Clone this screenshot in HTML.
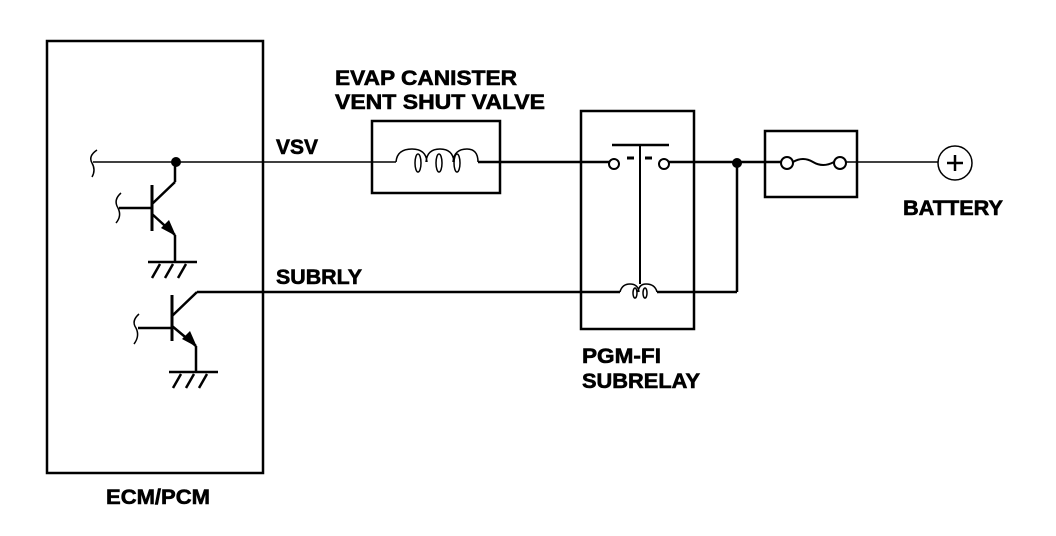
<!DOCTYPE html>
<html><head><style>
html,body{margin:0;padding:0;background:#fff;}
svg{display:block}
text{font-family:"Liberation Sans",Arial,sans-serif;font-weight:bold;font-size:21px;fill:#000;stroke:#000;stroke-width:0.6}
</style></head><body>
<svg width="1056" height="536" viewBox="0 0 1056 536" xmlns="http://www.w3.org/2000/svg">
<g fill="none" stroke="#000" stroke-width="2.5">
<rect x="47" y="41" width="216" height="432"/>
<line x1="93" y1="162" x2="396" y2="162" stroke-width="1.5"/>
<path d="M97 150 Q88 156 92 163 Q96 170 92 177" stroke-width="1.5"/>
<!-- transistor 1 -->
<line x1="175" y1="162" x2="175" y2="182"/>
<line x1="175" y1="182" x2="152" y2="204"/>
<line x1="152" y1="185" x2="152" y2="231" stroke-width="3"/>
<line x1="119" y1="208" x2="152" y2="208"/>
<path d="M121 193 Q113 200 118 208 Q122 216 116 223" stroke-width="1.5"/>
<line x1="152" y1="214" x2="175" y2="235"/>
<line x1="175" y1="235" x2="175" y2="262"/>
<line x1="148" y1="262" x2="197" y2="262"/>
<line x1="160" y1="264" x2="152" y2="278"/><line x1="173" y1="264" x2="165" y2="278"/><line x1="186" y1="264" x2="178" y2="278"/>
<!-- transistor 2 -->
<line x1="197" y1="292" x2="172" y2="316"/>
<line x1="197" y1="292" x2="620" y2="292"/>
<line x1="172" y1="295" x2="172" y2="341" stroke-width="3"/>
<line x1="138" y1="328" x2="172" y2="328"/>
<path d="M139 314 Q131 321 136 328 Q140 336 134 344" stroke-width="1.5"/>
<line x1="172" y1="326" x2="196" y2="346"/>
<line x1="196" y1="346" x2="196" y2="372"/>
<line x1="169" y1="372" x2="218" y2="372"/>
<line x1="181" y1="374" x2="173" y2="388"/><line x1="194" y1="374" x2="186" y2="388"/><line x1="207" y1="374" x2="199" y2="388"/>
<!-- valve -->
<rect x="372" y="121" width="128" height="72"/>
<path d="M396 162 Q397 149 412 149 Q426 149 427 162 M426 162 Q427 149 440 149 Q453 149 454 162 M453 162 Q454 149 467 149 Q478 149 478 162" stroke-width="1.5"/>
<ellipse cx="418" cy="163" rx="3" ry="9" stroke-width="1.5"/>
<ellipse cx="439" cy="163" rx="3" ry="9" stroke-width="1.5"/>
<ellipse cx="457" cy="163" rx="3" ry="9" stroke-width="1.5"/>
<line x1="478" y1="162" x2="609" y2="162"/>
<!-- relay -->
<rect x="581" y="111" width="113" height="218"/>
<circle cx="614" cy="164" r="5" stroke-width="2"/>
<circle cx="664" cy="164" r="5" stroke-width="2"/>
<line x1="612" y1="145" x2="669" y2="145"/>
<line x1="640" y1="145" x2="640" y2="284" stroke-width="2"/>
<line x1="627" y1="158" x2="634" y2="158" stroke-width="3"/><line x1="645" y1="158" x2="652" y2="158" stroke-width="3"/>
<line x1="669" y1="162" x2="765" y2="162"/>
<path d="M620 292 Q622 284 630 284 Q638 284 639 292 M638 292 Q639 284 646 284 Q655 284 657 292" stroke-width="1.5"/>
<ellipse cx="635" cy="293" rx="2" ry="5" stroke-width="1.5"/>
<ellipse cx="645" cy="293" rx="2" ry="5" stroke-width="1.5"/>
<line x1="657" y1="292" x2="737" y2="292"/>
<line x1="737" y1="162" x2="737" y2="292"/>
<!-- fuse -->
<rect x="765" y="131" width="92" height="66"/>
<line x1="765" y1="162" x2="781" y2="162"/>
<circle cx="787" cy="163" r="6" stroke-width="2"/>
<circle cx="840" cy="163" r="6" stroke-width="2"/>
<path d="M793 162 Q803 156 813 162 Q823 168 834 162" stroke-width="2"/>
<line x1="846" y1="162" x2="938" y2="162" stroke-width="1.5"/>
<circle cx="955" cy="163" r="17" stroke-width="1.5"/>
<line x1="947" y1="163" x2="963" y2="163"/>
<line x1="955" y1="155" x2="955" y2="171"/>
</g>
<circle cx="176" cy="162" r="5"/>
<circle cx="737" cy="163" r="5"/>
<polygon points="176,236 161,228 169,220"/>
<polygon points="197,347 182,339 190,331"/>
<text x="335" y="85" textLength="182" lengthAdjust="spacingAndGlyphs">EVAP CANISTER</text>
<text x="335" y="109" textLength="210" lengthAdjust="spacingAndGlyphs">VENT SHUT VALVE</text>
<text x="276" y="154" textLength="42" lengthAdjust="spacingAndGlyphs">VSV</text>
<text x="276" y="284" textLength="86" lengthAdjust="spacingAndGlyphs">SUBRLY</text>
<text x="582" y="363" textLength="79" lengthAdjust="spacingAndGlyphs">PGM-FI</text>
<text x="582" y="388" textLength="118" lengthAdjust="spacingAndGlyphs">SUBRELAY</text>
<text x="903" y="215" textLength="100" lengthAdjust="spacingAndGlyphs">BATTERY</text>
<text x="106" y="504" textLength="104" lengthAdjust="spacingAndGlyphs">ECM/PCM</text>
</svg>
</body></html>
